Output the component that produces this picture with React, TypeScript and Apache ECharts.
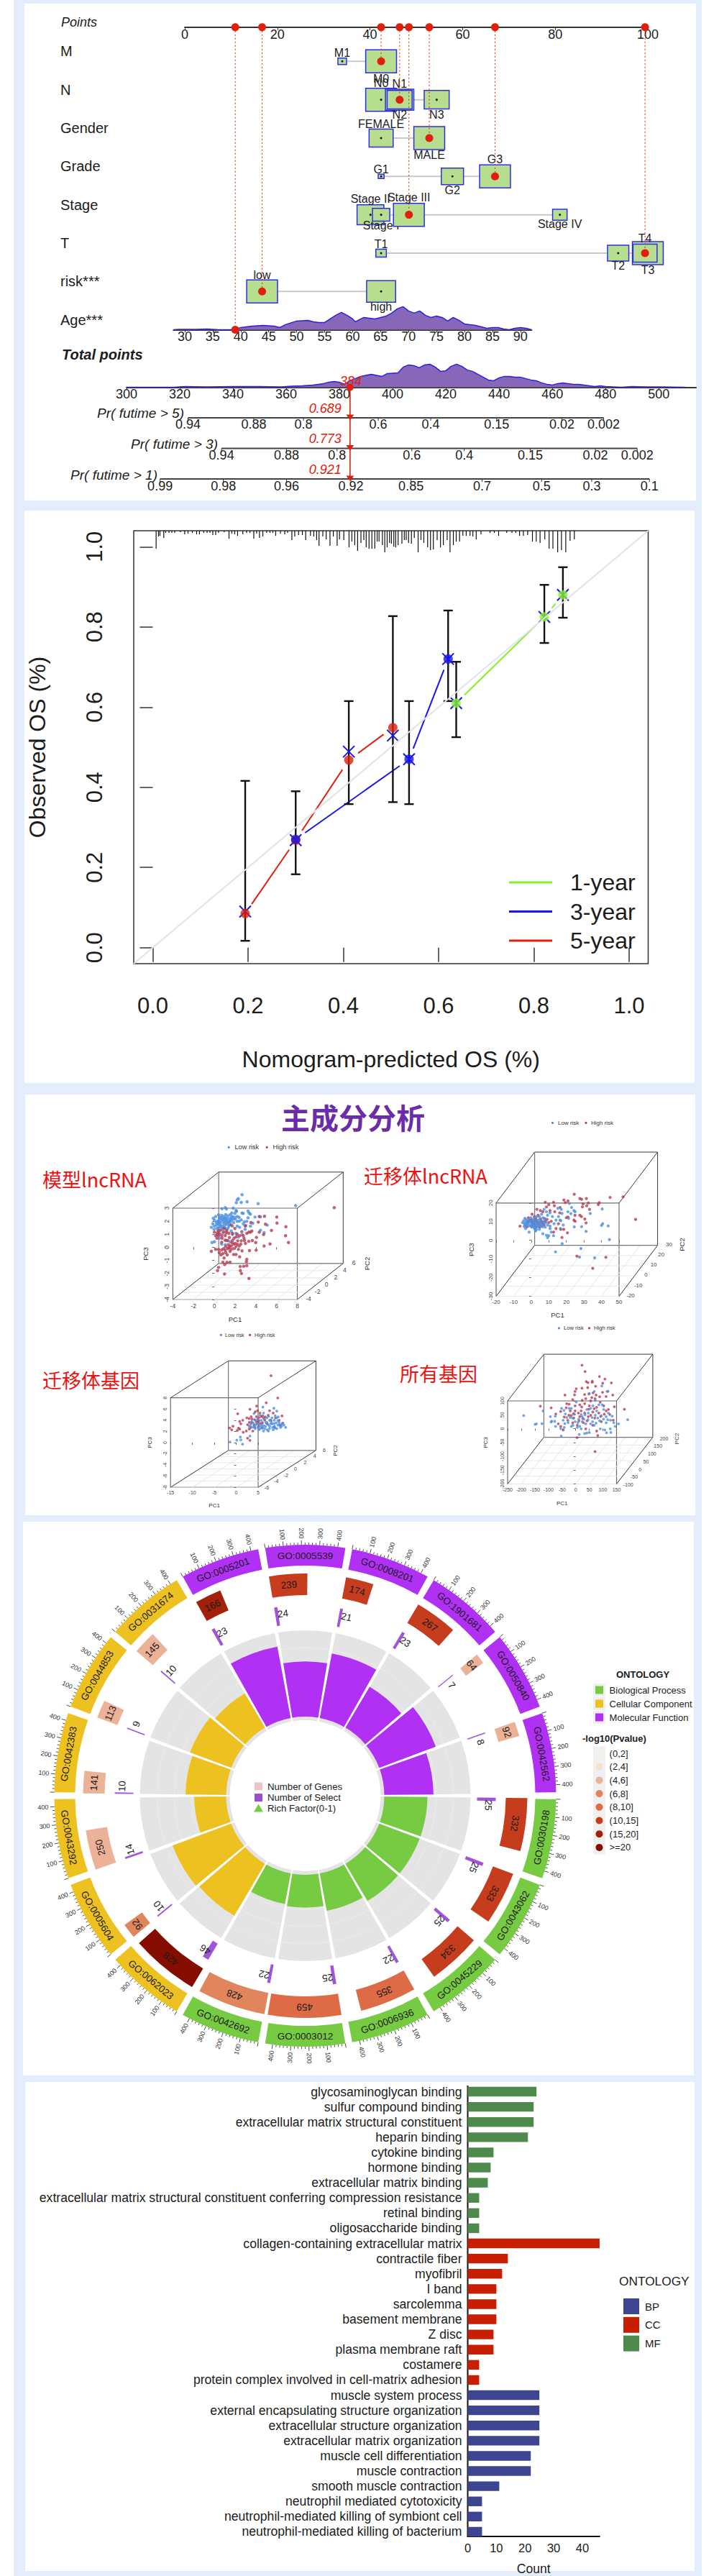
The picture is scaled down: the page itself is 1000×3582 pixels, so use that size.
import React, { useEffect, useRef } from "react";
import * as echarts from "echarts";

const SANS = '"Liberation Sans", Arial, sans-serif';
const CJK = '"Noto Sans CJK SC", sans-serif';
const RED = "#e0200c";
const INK = "#1c1c1c";

// ---------- Panel 1: nomogram ----------
const pointTicks = [0, 20, 40, 60, 80, 100];
const rowTitles = ["M", "N", "Gender", "Grade", "Stage", "T", "risk***", "Age***"];
const nomoNames = ["M1", "M0", "N0", "N1", "N2", "N3", "FEMALE", "MALE", "G1", "G2", "G3", "Stage II", "Stage I", "Stage III", "Stage IV", "T1", "T2", "T3", "T4", "low", "high"];
const nomoRows = [1, 1, 2, 2, 2, 2, 3, 3, 4, 4, 4, 5, 5, 5, 5, 6, 6, 6, 6, 7, 7];
const nomoPoints = [34, 42.4, 42.4, 46.4, 46.4, 54.4, 42.4, 52.8, 42.4, 57.8, 67, 40.1, 42.4, 48.4, 81, 42.4, 93.6, 100, 99.4, 16.7, 42.4];
const nomoWeight = [0.28, 1, 1, 0.92, 0.81, 0.81, 0.78, 1, 0.19, 0.72, 1, 0.87, 0.56, 1, 0.47, 0.34, 0.69, 1, 0.78, 1, 0.94];
const selPoints = [10.9, 16.7, 42.4, 46.4, 48.4, 52.8, 67, 99.4];
const selRows = [8, 7, 1, 2, 5, 3, 4, 6];
const ageX = [28, 29, 30, 32, 34, 36, 38, 39, 40, 42, 44, 46, 47, 48, 50, 52, 53, 54, 55, 57, 58, 59, 60, 60.5, 62, 64, 65, 66, 67, 68, 69, 70, 71, 72, 73, 74, 75, 76, 77, 78, 79, 80, 81, 82, 83, 84, 85, 86, 87, 88, 89, 90, 91, 92];
const ageDensity = [0, 0.5, 0.3, 0.3, 1, 0, 0, 0.5, 3, 5, 6, 5, 3, 7, 12, 13, 11, 10, 10, 20, 24, 20, 15, 11, 17, 15, 17, 19, 23, 29, 32, 26, 23, 26, 20, 17, 19, 17, 12, 17, 13, 8, 7, 6, 4, 2, 3, 3, 1, 0, 2, 3, 2, 0];
const ageTicks = [30, 35, 40, 45, 50, 55, 60, 65, 70, 75, 80, 85, 90];
const totalX = [300, 318, 322, 330, 340, 350, 358, 362, 366, 370, 374, 376, 378, 380, 382, 384, 388, 392, 396, 398, 402, 404, 406, 408, 410, 412, 414, 416, 418, 420, 422, 424, 426, 428, 430, 432, 434, 436, 438, 440, 442, 444, 446, 448, 450, 452, 454, 456, 458, 460, 462, 464, 466, 468, 470, 472, 474, 476, 478, 480, 486, 490, 495, 500, 510];
const totalDensity = [0, 0, 1, 0.5, 1, 1, 0.5, 1.5, 2, 3, 5, 7, 8, 7, 4, 9, 15, 18, 15, 19, 20, 28, 31, 30, 27, 31, 32, 28, 22, 23, 29, 32, 29, 24, 22, 18, 14, 10, 9, 13, 15, 15, 14, 14, 12, 10, 9, 6, 4, 3, 5, 6, 5, 4, 4, 3, 2, 1, 2, 1, 0, 1, 0.5, 0.5, 0];
const totalTicks = [300, 320, 340, 360, 380, 400, 420, 440, 460, 480, 500];
const prLabels = [
  ["0.94", "0.88", "0.8", "0.6", "0.4", "0.15", "0.02", "0.002"],
  ["0.94", "0.88", "0.8", "0.6", "0.4", "0.15", "0.02", "0.002"],
  ["0.99", "0.98", "0.96", "0.92", "0.85", "0.7", "0.5", "0.3", "0.1"],
];
const prAtTotal = [
  [323.1, 347.8, 366.5, 394.6, 414.3, 439.1, 463.6, 479.3],
  [335.7, 360.1, 379.1, 407.2, 426.9, 451.7, 476.2, 491.9],
  [312.6, 336.4, 360.1, 384.3, 406.9, 433.6, 456, 474.8, 496.5],
];
const prTitles = ["Pr( futime > 5)", "Pr( futime > 3)", "Pr( futime > 1)"];
const prValues = ["0.689", "0.773", "0.921"];
const totalScore = 384;

// ---------- Panel 2: calibration ----------
const calX = [0.194, 0.3, 0.4115, 0.504, 0.538, 0.62, 0.637, 0.822, 0.861];
const calLo = [0.017, 0.183, 0.358, 0.363, 0.358, 0.615, 0.525, 0.76, 0.823];
const calHi = [0.416, 0.39, 0.615, 0.827, 0.615, 0.841, 0.713, 0.905, 0.949];
const calCorrected = [0.09, 0.268, 0.489, 0.529, 0.47, 0.72, 0.61, 0.825, 0.88];
const year5 = [[0.194, 0.085], [0.3, 0.268], [0.4115, 0.468], [0.504, 0.549]];
const year3 = [[0.3, 0.27], [0.538, 0.47], [0.62, 0.72]];
const year1 = [[0.637, 0.61], [0.822, 0.825], [0.861, 0.88]];
const rugX = [0.007, 0.012, 0.015, 0.023, 0.027, 0.034, 0.04, 0.046, 0.058, 0.067, 0.074, 0.083, 0.092, 0.098, 0.107, 0.114, 0.12, 0.126, 0.132, 0.138, 0.15, 0.16, 0.166, 0.172, 0.178, 0.189, 0.197, 0.204, 0.212, 0.218, 0.224, 0.231, 0.239, 0.246, 0.252, 0.258, 0.268, 0.277, 0.283, 0.292, 0.298, 0.306, 0.314, 0.321, 0.331, 0.338, 0.344, 0.349, 0.357, 0.364, 0.372, 0.379, 0.387, 0.392, 0.401, 0.412, 0.418, 0.424, 0.43, 0.437, 0.443, 0.448, 0.454, 0.46, 0.466, 0.471, 0.475, 0.482, 0.487, 0.492, 0.497, 0.501, 0.506, 0.51, 0.515, 0.523, 0.528, 0.532, 0.537, 0.543, 0.549, 0.557, 0.563, 0.569, 0.577, 0.583, 0.589, 0.597, 0.604, 0.61, 0.618, 0.624, 0.631, 0.637, 0.644, 0.651, 0.658, 0.666, 0.672, 0.679, 0.689, 0.708, 0.717, 0.726, 0.743, 0.754, 0.762, 0.77, 0.778, 0.787, 0.797, 0.805, 0.813, 0.823, 0.832, 0.84, 0.85, 0.858, 0.867, 0.876, 0.885];
const rugLen = [25, 8, 7, 10, 3, 3, 3, 3, 2, 5, 4, 3, 5, 5, 3, 3, 3, 6, 6, 3, 2, 11, 4, 5, 7, 5, 3, 3, 11, 4, 10, 8, 3, 3, 3, 7, 4, 5, 3, 13, 8, 6, 6, 13, 7, 8, 13, 21, 8, 12, 21, 8, 21, 12, 13, 23, 15, 20, 28, 17, 13, 23, 25, 25, 25, 15, 15, 20, 30, 23, 17, 18, 22, 23, 20, 18, 13, 13, 17, 18, 10, 30, 13, 17, 23, 27, 26, 13, 23, 20, 13, 30, 20, 15, 15, 7, 7, 7, 8, 12, 5, 3, 3, 7, 3, 3, 3, 7, 7, 6, 15, 15, 17, 12, 25, 25, 30, 27, 30, 14, 12];

// ---------- Panel 3: PCA ----------
const pcaALow = [[2.67,4.03],[2.32,3.73],[2.21,3.64],[2.12,3.42],[2.6,3.44],[3.16,3.5],[4.22,3.35],[7.84,3.2],[0.73,2.96],[1.05,3.04],[1.17,2.94],[1.82,3],[2.09,2.82],[2.14,2.76],[1.68,2.63],[1.98,2.6],[2.67,2.63],[2.79,2.6],[3.25,2.78],[3.36,2.63],[3.48,2.54],[3.92,2.32],[4.45,2.34],[3.25,2.26],[2.9,1.95],[3.13,1.99],[3.71,1.84],[2.79,1.8],[2.97,1.62],[3.48,1.62],[5.1,1.7],[4.45,1.31],[4.8,1.13],[2.97,1.38],[0.41,2.49],[0.13,2.36],[-0.1,2.23],[0.01,2.08],[0.71,2.45],[0.87,2.36],[1.05,2.27],[1.29,2.41],[1.52,2.49],[1.75,2.36],[2.21,2.36],[2.39,2.3],[2.02,2.17],[0.48,2.17],[0.71,2.08],[0.94,1.99],[1.17,2.08],[1.33,1.9],[1.63,2.08],[1.86,1.9],[2.21,1.99],[0.18,1.9],[-0.15,1.8],[-0.29,1.53],[0.01,1.62],[0.36,1.8],[0.59,1.71],[0.82,1.62],[1.05,1.71],[1.4,1.62],[1.75,1.62],[2.21,1.62],[2.44,1.53],[-0.03,1.38],[0.25,1.44],[0.71,1.35],[1.17,1.38],[1.63,1.25],[2.09,1.07],[2.67,0.98],[0.82,1.07],[0.25,0.98],[0.48,0.7],[1.17,0.52],[1.52,0.43],[-0.22,0.37],[0.01,0.43],[0.71,0.24],[1.05,0.19],[1.75,0.98],[2.32,0.79],[1,2.2],[0.9,1.85],[1.2,1.8],[0.6,1.9],[0.3,2],[0.75,1.5],[1.5,2.2],[1.1,2.5],[1.4,2],[0.5,2.3],[0.2,1.7],[0.4,1.5],[0.65,2.25],[0.85,2.15],[1.1,1.95],[1.25,2.2],[1.45,1.75],[1.55,1.95],[1.95,2.3],[1.65,2.3],[0.6,1.6],[1,1.5],[1.3,1.45],[0.45,1.95],[2.4,2],[1.8,2.15],[2.6,2.1]];
const pcaAHigh = [[11.56,3.04],[6.02,2.32],[6.04,1.86],[6.9,1.58],[6.87,0.89],[7.15,0.37],[5.51,1.29],[5.37,0.26],[4.8,0.1],[4.03,-0.22],[3.39,-0.25],[4.33,2.36],[4.84,2.38],[4.24,1.93],[4.93,1.77],[4.33,1.16],[4.75,0.98],[4.06,0.76],[3.99,0.37],[3.66,0.52],[3.32,0.46],[3.62,1.25],[3.32,1.16],[3.02,1.66],[3.53,1.9],[2.86,0.7],[2.9,0.52],[2.55,0.24],[2.67,-0.27],[2.44,-0.73],[3.13,-0.92],[3.09,-1.1],[3.13,-1.41],[2.83,-1.45],[2.49,-1.47],[2.51,-1.78],[2.62,-2],[3.34,-2.39],[0.98,-2.04],[0.31,-1.78],[0.41,-1.54],[0.82,-1.14],[1,-1.32],[1.22,-1.15],[1.52,-1.14],[0.94,-0.82],[0.64,-0.58],[-0.29,-0.31],[0.13,-0.16],[0.41,-0.16],[0.48,-0.4],[0.82,-0.49],[1.24,-0.58],[1.86,-0.55],[2.09,-0.55],[1.05,-0.22],[1.4,-0.03],[1.63,0.1],[1.86,0.24],[2.09,0.06],[2.32,-0.16],[1.52,-0.31],[1.29,0.52],[0.71,0.39],[0.13,0.89],[0.01,1.16],[0.36,1.25],[0.71,0.89],[1.05,0.89],[1.4,1.07],[1.75,1.07],[2.09,0.79],[2.44,0.89],[2.79,0.89],[3.13,1.07],[3.48,1.16],[0.94,1.44],[1.63,1.71],[1.98,1.44],[2.21,0.24],[1.75,0.52],[0.25,0.7],[0.5,1.05],[1.2,1.25],[1.9,0.7],[2.25,0.5],[1.35,0.2],[1.6,-0.15],[1.85,-0.1],[1.1,0.05],[0.3,1.1],[0.55,1.3],[0.9,1.2],[1.15,1.1],[0.4,0.9],[0.75,0.7],[1.05,0.55],[1.45,0.75],[1.7,0.35],[2,0.3],[2.4,0.1],[1.5,0.1],[1.3,-0.1],[0.9,-0.1],[1.1,-0.4],[0.7,-0.2],[2.6,0.5],[3,0.3],[2.2,1],[2.65,1.2]];
const pcaBLow = [[22.97,17.6],[24.34,15.9],[25,15.3],[20.9,15.3],[22.6,14.3],[33.6,14.4],[40.4,16.8],[21.7,19.8],[15.1,17.2],[17.1,16.6],[17.5,14.4],[15.5,12.7],[21.3,11.8],[16.4,10.8],[16.8,10.5],[40,8],[40.7,8.9],[43.8,7.7],[28.7,7.3],[24.5,7.2],[31.2,4.8],[18.2,8.2],[16.6,6.3],[13,8.9],[14.1,10.8],[10.7,6.3],[11.4,4.4],[12.7,2.5],[6.6,3.5],[8.65,2.7],[10,2.5],[9.3,1.4],[-1.2,4.4],[-3.2,6.3],[17.6,-1.8],[44.5,0.4],[28.3,-4.4],[13.8,-6.2],[27.5,-9],[36.1,-9.4],[-5,9.5],[-3.6,11.8],[-2.3,10.2],[-0.9,9.5],[0.5,8.2],[1.8,6.3],[3.2,7],[4.6,5.9],[5.9,7.6],[8,7],[9.3,8.2],[10.7,7.6],[-0.2,12.1],[1.1,10.8],[2.5,9.5],[3.9,10.8],[5.2,9.5],[6.6,12.1],[8,11.4],[9.3,13.4],[7.3,16.6],[8.65,15.3],[10.7,14.7],[12,12.7],[4.6,12.7],[-3.6,8.2],[-1.6,7.6],[2.5,5],[2.9,5.7],[1.8,12.1],[5.9,14],[-4.3,10.5],[-1,11],[0.8,9],[3,8],[4.5,9],[6,8.5],[7,10],[-2.6,8.4],[1,7.5],[2.3,11],[-3,9.7],[-2,8.8],[-1.5,10.5],[-0.5,8],[0,10.3],[0.3,7],[1.4,9.8],[2,8],[2.6,7],[3.5,9.5],[4,7.6],[5,8],[5.5,10.8],[6.5,7.2],[7.5,9.2],[8.5,9.6],[-4,7.4],[-2.8,11],[3,12.6],[-3.9,9]];
const pcaBHigh = [[24.5,24.7],[18.6,21.6],[20.9,21.1],[19.4,20.2],[27.7,22.4],[28.7,22],[31.4,22.4],[44.9,23],[52.3,23.3],[38.7,20.2],[38.2,19.2],[32.5,20],[29.5,19.5],[29.1,17.9],[31.6,18.5],[33.2,16.6],[20.9,12.5],[20,12.1],[24.9,13.4],[27.7,13.4],[28.6,12.7],[30.5,11.4],[24.3,10.8],[25,10.2],[31.2,9.3],[59.4,11.2],[20.6,4],[18.5,5.9],[16.8,5.9],[17.5,1.5],[14.1,6.3],[12.7,4.4],[15.5,8.9],[8,20.4],[10,19.1],[12.7,20.4],[13.2,18.5],[16.4,17.6],[8.65,17.9],[10.7,15.9],[13.4,15.3],[16.2,14.7],[3.2,16.6],[5.2,15.9],[0.5,14],[1.8,12.7],[-1.6,12.1],[-6.4,7.6],[3.9,13.4],[6.6,15.3],[5.2,11.4],[8,10.2],[10,9.5],[2.5,11.4],[0.5,9.5],[3.2,8.9],[5.9,10.2],[1.8,8.2],[4.6,8.2],[7.3,8.2],[11.4,10.2],[26,-8.5],[42.5,-9.1],[35,-15],[-1.8,9.8],[-0.8,10.8],[0.4,11],[1,9.5],[1.6,10],[3,10.3],[4.2,9.8],[4.8,7],[6.5,9.2],[7.5,11.7],[9,11.2],[2.2,6.8],[-2.5,7.2],[0,7.6]];
const pcaCLow = [[-1.41,0.1],[0.12,0.44],[0.94,1],[1.05,0.48],[1.44,-0.29],[3.13,1.17],[6.09,6.34],[8.6,6.13],[9.26,5.62],[4.06,5.19],[6.25,5.27],[2.97,2.92],[3.52,3.78],[4.34,3.99],[4.88,3.35],[5.7,2.92],[6.52,2.49],[7.07,2.28],[7.62,2.92],[8.16,3.35],[8.71,3.99],[9.26,4.42],[9.81,3.56],[10.35,2.92],[11.28,2.71],[10.9,3.13],[8.44,2.28],[9.26,2.49],[6.8,3.56],[7.62,3.99],[8.16,4.42],[5.7,3.99],[5.16,2.28],[4.34,2.49],[3.52,2.71],[6.25,2.06],[7.34,2.06],[8.71,2.92],[9.53,3.13],[5.43,4.85],[4.88,4.2],[3.3,3.2],[3.9,3.5],[4.4,3.1],[4.9,2.7],[5.3,3.4],[5.9,3.2],[6.3,3],[6.7,2.9],[7,3.6],[7.3,3.2],[7.6,2.5],[7.9,3.4],[8.3,2.7],[8.6,3.4],[8.9,2.6],[9.1,3.5],[9.5,3.9],[9.9,3.1],[10.1,2.7],[10.5,3.4],[6.4,4.2],[7,4.4],[7.4,4.7],[8,3.8],[8.9,4.8],[9.6,4.6],[6,2.6],[5.4,2.5],[4.6,3.4],[4,2.8]];
const pcaCHigh = [[7.95,11.95],[9.48,7.97],[6.85,7.11],[4.66,6.52],[3.13,5.96],[0.34,5.15],[-1.52,2.62],[-0.75,2.92],[-1.03,2.28],[0.78,3.78],[1.49,3.99],[1.05,3.35],[0.51,2.58],[0.78,2.41],[0.23,2.15],[2.42,4.42],[3.41,4.63],[2.97,4.29],[2.59,0.78],[3.13,0.39],[1.6,1.85],[2.31,2.06],[2.97,2.41],[4.34,5.49],[4.88,5.7],[5.43,5.27],[5.7,4.63],[7.62,5.7],[8.44,5.27],[10.46,4.76],[10.63,3.48],[3.52,3.56],[4.06,3.13],[4.61,3.78],[5.16,2.92],[5.98,3.56],[6.52,3.99],[7.07,3.35],[7.89,3.99],[8.99,4.42],[9.81,3.99],[3.24,2.71],[3.79,2.06],[5.16,4.42],[4.61,4.63],[6.25,4.42],[8.71,2.71],[10.08,3.13],[3.6,4.2],[4.2,4.1],[4.9,3.6],[5.5,3.4],[5.2,3.9],[6,4.8],[6.6,4.6],[7.3,4.9],[4.2,2.7],[2.6,3.2],[3,3.6],[5.9,2.6]];
const pcaDLow = [[-191,47],[-149,15],[-144,17],[-124,18],[-120,64],[-93,43],[-75,45],[-88,27],[-90,24],[-77,26],[-74,8],[-52,73],[-43,66],[-53,-27],[-46,30],[-38,53],[-33,40],[-24,73],[-16,73],[2,96],[-11,38],[-2,25],[11,34],[24,43],[24,25],[37,17],[46,56],[55,73],[63,82],[72,102],[50,127],[68,134],[96,154],[119,135],[98,86],[85,86],[81,38],[94,47],[112,43],[120,56],[134,45],[140,21],[157,17],[191,32],[145,8],[112,21],[107,-5],[127,-1],[129,-14],[113,-15],[90,-1],[68,12],[55,17],[41,-16],[50,-14],[33,-18],[20,-1],[13,-21],[6,4],[-16,8],[-42,4],[-55,0],[20,51],[41,69],[77,64],[103,69],[-20,40],[-5,52],[8,22],[30,34],[60,40],[72,48],[88,28],[102,34],[118,32],[-28,22],[-40,18],[15,8],[45,32],[34,50],[-10,12],[75,20],[128,30],[62,25]];
const pcaDHigh = [[23,229],[34.5,206],[87.2,188],[107.4,179],[38.9,170],[45,166],[60.8,171],[60.8,167],[99.4,164],[131,165],[73,153],[2,144],[23,146],[44,148],[-2.4,134],[-4.2,122],[-39.3,121],[32.7,123],[48.5,125],[63.5,129],[74.9,121],[98.6,131],[116,134],[136,121],[88,115],[111.7,116],[-11,105],[24,102],[37,108],[59,112],[71,108],[-130,81],[-90,75],[-55,62],[-73,53],[-33,90],[-24,88],[-35,75],[-2,82],[15,86],[33,90],[50,82],[77,77],[103,82],[142,79],[179,70],[-16,47],[-2,64],[20,64],[33,56],[46,43],[63,60],[85,56],[112,64],[125,51],[138,30],[-64,17],[-55,8],[-46,-5],[-29,30],[-11,21],[6,12],[28,21],[37,-1],[63,12],[77,-9],[94,25],[81,-25],[5,-33],[71,-83],[-7,38],[15,43],[120,69],[-20,64],[-8,54],[10,56],[26,36],[42,28],[55,48],[70,38],[92,44],[105,52],[-25,48],[-42,42],[12,28],[48,70],[68,72],[22,78],[90,95],[55,100]];
const pc2TicksA = ["-4", "-2", "0", "2", "4", "6"];
const pc2TicksB = ["-20", "-10", "0", "10", "20", "30"];
const pc2TicksC = ["-6", "-4", "-2", "0", "2", "4", "6"];
const pc2TicksD = ["-100", "-50", "0", "50", "100", "150", "200"];

// ---------- Panel 4: GO circle ----------
const goIds = ["GO:0030198", "GO:0043062", "GO:0045229", "GO:0006936", "GO:0003012", "GO:0042692", "GO:0062023", "GO:0005604", "GO:0043292", "GO:0042383", "GO:0044853", "GO:0031674", "GO:0005201", "GO:0005539", "GO:0008201", "GO:1901681", "GO:0050840", "GO:0042562"];
const goOntology = [0, 0, 0, 0, 0, 0, 1, 1, 1, 1, 1, 1, 2, 2, 2, 2, 2, 2];
const goGenes = [332, 333, 334, 355, 459, 428, 428, 92, 250, 141, 113, 145, 166, 239, 174, 267, 64, 92];
const goSelect = [25, 25, 25, 22, 25, 22, 46, 10, 14, 10, 9, 10, 23, 24, 21, 23, 7, 8];
const goRich = [0.5, 0.5, 0.5, 0.44, 0.38, 0.36, 0.7, 0.725, 0.37, 0.47, 0.51, 0.46, 0.84, 0.64, 0.76, 0.55, 0.7, 0.57];
const goBin = [5, 5, 5, 4, 4, 3, 7, 3, 2, 2, 2, 2, 6, 5, 5, 5, 2, 2];
const ontologyNames = ["Biological Process", "Cellular Component", "Molecular Function"];
const ontologyColors = ["#77cb42", "#edc11f", "#b030f4"];
const pBinNames = ["(0,2]", "(2,4]", "(4,6]", "(6,8]", "(8,10]", "(10,15]", "(15,20]", ">=20"];
const pBinColors = ["#f7f1ea", "#f5e0d0", "#ebb297", "#e1855c", "#dd6b45", "#c53d1c", "#a3200a", "#850d00"];
const goAxisTicks = [0, 20, 40, 60, 80, 100, 120, 140, 160, 180, 200, 220, 240, 260, 280, 300, 320, 340, 360, 380, 400];
const centerNames = ["Number of Genes", "Number of Select", "Rich Factor(0-1)"];

// ---------- Panel 5: enrichment bars ----------
const barNames = ["glycosaminoglycan binding", "sulfur compound binding", "extracellular matrix structural constituent", "heparin binding", "cytokine binding", "hormone binding", "extracellular matrix binding", "extracellular matrix structural constituent conferring compression resistance", "retinal binding", "oligosaccharide binding", "collagen-containing extracellular matrix", "contractile fiber", "myofibril", "I band", "sarcolemma", "basement membrane", "Z disc", "plasma membrane raft", "costamere", "protein complex involved in cell-matrix adhesion", "muscle system process", "external encapsulating structure organization", "extracellular structure organization", "extracellular matrix organization", "muscle cell differentiation", "muscle contraction", "smooth muscle contraction", "neutrophil mediated cytotoxicity", "neutrophil-mediated killing of symbiont cell", "neutrophil-mediated killing of bacterium"];
const barCounts = [24, 23, 23, 21, 9, 8, 7, 4, 4, 4, 46, 14, 12, 10, 10, 10, 9, 9, 4, 4, 25, 25, 25, 25, 22, 22, 11, 5, 5, 5];
const barGroup = ["MF", "MF", "MF", "MF", "MF", "MF", "MF", "MF", "MF", "MF", "CC", "CC", "CC", "CC", "CC", "CC", "CC", "CC", "CC", "CC", "BP", "BP", "BP", "BP", "BP", "BP", "BP", "BP", "BP", "BP"];
const barGroups = ["BP", "CC", "MF"];
const barColors = ["#3d4490", "#c81f02", "#4e8a4b"];

function buildOption() {
  const grid: any[] = [];
  const xAxis: any[] = [];
  const yAxis: any[] = [];
  const series: any[] = [];
  const graphic: any[] = [];

  const cart = (g: any, x: any, y: any) => {
    const i = grid.length;
    grid.push({ containLabel: false, ...g });
    xAxis.push({ gridIndex: i, ...x });
    yAxis.push({ gridIndex: i, ...y });
    return i;
  };
  const txt = (text: string, x: number, y: number, size: number, o: any = {}) => ({
    type: "text",
    x,
    y,
    rotation: o.rotation || 0,
    silent: true,
    style: {
      text,
      fontSize: size,
      fontFamily: o.family || SANS,
      fontStyle: o.italic ? "italic" : "normal",
      fontWeight: o.bold ? "bold" : "normal",
      fill: o.fill || INK,
      align: o.align || "left",
      textAlign: o.align || "left",
      verticalAlign: "middle",
      textVerticalAlign: "middle",
    },
  });
  const gline = (x1: number, y1: number, x2: number, y2: number, stroke: string, lineWidth = 1) => ({
    type: "line",
    silent: true,
    shape: { x1, y1, x2, y2 },
    style: { stroke, lineWidth },
  });

  // ===== Panel 1 =====
  const AX = { color: "#333", width: 2 };
  cart(
    { left: 257, top: 8, width: 644, height: 30 },
    { type: "value", min: 0, max: 100, interval: 20, axisLine: { lineStyle: AX }, axisTick: { length: 4, lineStyle: { color: "#333" } }, splitLine: { show: false }, axisLabel: { customValues: pointTicks, fontSize: 18, fontFamily: SANS, color: INK, margin: 1 } },
    { type: "value", show: false, min: 0, max: 1 }
  );
  graphic.push(txt("Points", 85, 31, 18, { italic: true }));
  rowTitles.forEach((t, i) => graphic.push(txt(t, 84, 71.4 + i * 53.3, 20)));

  const rowsGrid = cart(
    { left: 257, top: 32, width: 644, height: 426.6 },
    { type: "value", show: false, min: 0, max: 100 },
    { type: "value", show: false, min: 0, max: 8, inverse: true }
  );
  series.push({
    type: "custom",
    name: "rows",
    xAxisIndex: rowsGrid,
    yAxisIndex: rowsGrid,
    silent: true,
    clip: false,
    data: [1, 2, 3, 4, 5, 6, 7].map((r) => [Math.min(...nomoPoints.filter((_, i) => nomoRows[i] === r)), r, Math.max(...nomoPoints.filter((_, i) => nomoRows[i] === r))]),
    renderItem: (_p: any, api: any) => {
      const a = api.coord([api.value(0), api.value(1)]);
      const b = api.coord([api.value(2), api.value(1)]);
      return { type: "line", shape: { x1: a[0], y1: a[1], x2: b[0], y2: b[1] }, style: { stroke: "#c9c9c9", lineWidth: 2 } };
    },
  });
  const labelDy = [-11.6, 24, -23, -22, 21, 21, -19, 23.6, -10, 19, -23.6, -22, 15, -24, 13, -12, 18, 24, -20, -23, 21];
  series.push({
    type: "custom",
    name: "levels",
    xAxisIndex: rowsGrid,
    yAxisIndex: rowsGrid,
    silent: true,
    clip: false,
    data: nomoNames.map((_, i) => [nomoPoints[i], nomoRows[i], nomoWeight[i]]),
    renderItem: (p: any, api: any) => {
      const c = api.coord([api.value(0), api.value(1)]);
      const h = api.value(2) * 32;
      const w = h * 1.34;
      return {
        type: "group",
        children: [
          { type: "rect", shape: { x: c[0] - w / 2, y: c[1] - h / 2, width: w, height: h }, style: { fill: "#b6de8e", stroke: "#2e2ee8", lineWidth: 1.5 } },
          { type: "circle", shape: { cx: c[0], cy: c[1], r: 1.5 }, style: { fill: "#111" } },
          { type: "text", x: c[0], y: c[1] + labelDy[p.dataIndex], style: { text: nomoNames[p.dataIndex], fontSize: 16, fontFamily: SANS, fill: INK, align: "center", textAlign: "center", verticalAlign: "middle", textVerticalAlign: "middle" } },
        ],
      };
    },
  });
  const ageGrid = cart(
    { left: 241.4, top: 418.4, width: 498, height: 40 },
    { type: "value", min: 28, max: 92, axisLine: { lineStyle: AX }, axisTick: { length: 4, customValues: ageTicks, lineStyle: { color: "#333" } }, splitLine: { show: false }, axisLabel: { customValues: ageTicks, fontSize: 18, fontFamily: SANS, color: INK, margin: 1 } },
    { type: "value", show: false, min: 0, max: 40 }
  );
  series.push({
    type: "line",
    name: "Age",
    xAxisIndex: ageGrid,
    yAxisIndex: ageGrid,
    symbol: "none",
    data: ageX.map((x, i) => [x, ageDensity[i]]),
    lineStyle: { color: "#2a20e0", width: 1.5 },
    areaStyle: { color: "#8866b8", opacity: 1 },
  });
  series.push({
    type: "custom",
    name: "selected",
    xAxisIndex: rowsGrid,
    yAxisIndex: rowsGrid,
    silent: true,
    clip: false,
    z: 6,
    data: selPoints.map((x, i) => [x, selRows[i]]),
    renderItem: (_p: any, api: any) => {
      const a = api.coord([api.value(0), 0.11]);
      const b = api.coord([api.value(0), api.value(1)]);
      return {
        type: "group",
        children: [
          { type: "line", shape: { x1: a[0], y1: a[1], x2: b[0], y2: b[1] }, style: { stroke: RED, lineWidth: 1, lineDash: [2, 3] } },
          { type: "circle", shape: { cx: a[0], cy: a[1], r: 5.5 }, style: { fill: RED } },
          { type: "circle", shape: { cx: b[0], cy: b[1], r: 5.5 }, style: { fill: RED } },
        ],
      };
    },
  });
  graphic.push(txt("Total points", 86, 493, 20, { italic: true, bold: true }));
  const totalGrid = cart(
    { left: 176, top: 504.4, width: 792, height: 34 },
    { type: "value", min: 300, max: 514, axisLine: { lineStyle: AX }, axisTick: { length: 4, customValues: totalTicks, lineStyle: { color: "#333" } }, splitLine: { show: false }, axisLabel: { customValues: totalTicks, fontSize: 18, fontFamily: SANS, color: INK, margin: 1 } },
    { type: "value", show: false, min: 0, max: 34 }
  );
  series.push({
    type: "line",
    name: "Total points",
    xAxisIndex: totalGrid,
    yAxisIndex: totalGrid,
    symbol: "none",
    data: totalX.map((x, i) => [x, totalDensity[i]]),
    lineStyle: { color: "#2a20e0", width: 1.5 },
    areaStyle: { color: "#8866b8", opacity: 1 },
  });
  const prGrid = cart(
    { left: 176, top: 538.4, width: 792, height: 127.6 },
    { type: "value", show: false, min: 300, max: 514 },
    { type: "value", show: false, min: 0, max: 3, inverse: true }
  );
  series.push({
    type: "custom",
    name: "probability scales",
    xAxisIndex: prGrid,
    yAxisIndex: prGrid,
    silent: true,
    clip: false,
    data: prAtTotal.map((p, i) => [p[0], i + 1]),
    renderItem: (p: any, api: any) => {
      const i = p.dataIndex;
      const row = api.value(1);
      const pos = prAtTotal[i];
      const a = api.coord([pos[0], row]);
      const b = api.coord([pos[pos.length - 1], row]);
      const children: any[] = [{ type: "line", shape: { x1: a[0], y1: a[1], x2: b[0], y2: b[1] }, style: { stroke: "#444", lineWidth: 2 } }];
      pos.forEach((t, j) => {
        const c = api.coord([t, row]);
        children.push({ type: "line", shape: { x1: c[0], y1: c[1], x2: c[0], y2: c[1] + 4 }, style: { stroke: "#333", lineWidth: 1 } });
        children.push({ type: "text", x: c[0], y: c[1] + 9.5, style: { text: prLabels[i][j], fontSize: 18, fontFamily: SANS, fill: INK, align: "center", textAlign: "center", verticalAlign: "middle", textVerticalAlign: "middle" } });
      });
      return { type: "group", children };
    },
  });
  series.push({
    type: "custom",
    name: "score",
    xAxisIndex: prGrid,
    yAxisIndex: prGrid,
    silent: true,
    clip: false,
    z: 6,
    data: [[totalScore, 0]],
    renderItem: (_p: any, api: any) => {
      const t = api.value(0);
      const a = api.coord([t, 0]);
      const b = api.coord([t, 3]);
      const children: any[] = [
        { type: "line", shape: { x1: a[0], y1: a[1], x2: b[0], y2: b[1] }, style: { stroke: RED, lineWidth: 1.6 } },
        { type: "circle", shape: { cx: a[0], cy: a[1], r: 5 }, style: { fill: RED } },
        { type: "text", x: a[0] + 1, y: a[1] - 8, style: { text: String(t), fontSize: 18, fontFamily: SANS, fontStyle: "italic", fill: RED, align: "center", textAlign: "center", verticalAlign: "middle", textVerticalAlign: "middle" } },
      ];
      [1, 2, 3].forEach((r) => {
        const c = api.coord([t, r]);
        children.push({ type: "polygon", shape: { points: [[c[0] - 5.5, c[1] - 4.5], [c[0] + 5.5, c[1] - 4.5], [c[0], c[1] + 3]] }, style: { fill: RED } });
        children.push({ type: "text", x: c[0] - 12, y: c[1] - 13, style: { text: prValues[r - 1], fontSize: 18, fontFamily: SANS, fontStyle: "italic", fill: RED, align: "right", textAlign: "right", verticalAlign: "middle", textVerticalAlign: "middle" } });
      });
      return { type: "group", children };
    },
  });
  [[256, 574], [303, 617], [219, 660]].forEach((p, i) => graphic.push(txt(prTitles[i], p[0], p[1], 19, { italic: true, align: "right" })));

  // ===== Panel 2 =====
  const calTicks = [0, 0.2, 0.4, 0.6, 0.8, 1];
  const fmt1 = (v: number) => v.toFixed(1);
  const calGrid = cart(
    { left: 186, top: 738, width: 715.5, height: 602, show: true, borderColor: "#333", borderWidth: 1.5, backgroundColor: "transparent" },
    {
      type: "value", min: -0.04, max: 1.04, name: "Nomogram-predicted OS (%)", nameLocation: "middle", nameGap: 117,
      nameTextStyle: { fontSize: 32, fontFamily: SANS, color: INK },
      axisLine: { show: false }, splitLine: { show: false },
      axisTick: { length: 20, customValues: calTicks, lineStyle: { color: "#333", width: 1.5 } },
      axisLabel: { customValues: calTicks, formatter: fmt1, fontSize: 31, fontFamily: SANS, color: INK, margin: 43 },
    },
    {
      type: "value", min: -0.04, max: 1.04, name: "Observed OS (%)", nameLocation: "middle", nameGap: 118,
      nameTextStyle: { fontSize: 32, fontFamily: SANS, color: INK },
      axisLine: { show: false }, splitLine: { show: false },
      axisTick: { length: 18, customValues: calTicks, lineStyle: { color: "#333", width: 1.5 } },
      axisLabel: { customValues: calTicks, formatter: fmt1, rotate: 90, fontSize: 31, fontFamily: SANS, color: INK, margin: 39 },
    }
  );
  const calS = { xAxisIndex: calGrid, yAxisIndex: calGrid, silent: true, clip: false };
  series.push({ type: "line", name: "ideal", ...calS, symbol: "none", data: [[-0.04, -0.04], [1.04, 1.04]], lineStyle: { color: "#e3e3e3", width: 2 } });
  series.push({
    type: "custom", name: "rug", ...calS,
    data: rugX.map((x, i) => [x, rugLen[i]]),
    renderItem: (_p: any, api: any) => {
      const a = api.coord([api.value(0), 1.04]);
      return { type: "line", shape: { x1: a[0], y1: a[1], x2: a[0], y2: a[1] + api.value(1) }, style: { stroke: "#111", lineWidth: 1.2 } };
    },
  });
  const brokenLine = (name: string, pts: number[][], color: string) => ({
    type: "custom", name, ...calS,
    itemStyle: { color },
    data: pts.slice(0, -1).map((p, i) => [p[0], p[1], pts[i + 1][0], pts[i + 1][1]]),
    renderItem: (_p: any, api: any) => {
      const a = api.coord([api.value(0), api.value(1)]);
      const b = api.coord([api.value(2), api.value(3)]);
      const L = Math.hypot(b[0] - a[0], b[1] - a[1]);
      const f = 16 / L;
      return {
        type: "line",
        shape: { x1: a[0] + (b[0] - a[0]) * f, y1: a[1] + (b[1] - a[1]) * f, x2: b[0] - (b[0] - a[0]) * f, y2: b[1] - (b[1] - a[1]) * f },
        style: { stroke: color, lineWidth: 2 },
      };
    },
  });
  series.push(brokenLine("1-year", year1, "#86f02c"));
  series.push(brokenLine("3-year", year3, "#1616ee"));
  series.push(brokenLine("5-year", year5, "#e0200c"));
  series.push({
    type: "custom", name: "error bars", ...calS,
    data: calX.map((x, i) => [x, calLo[i], calHi[i]]),
    renderItem: (_p: any, api: any) => {
      const lo = api.coord([api.value(0), api.value(1)]);
      const hi = api.coord([api.value(0), api.value(2)]);
      const s = { stroke: "#111", lineWidth: 2.4 };
      return {
        type: "group",
        children: [
          { type: "line", shape: { x1: lo[0], y1: lo[1], x2: hi[0], y2: hi[1] }, style: s },
          { type: "line", shape: { x1: lo[0] - 6.5, y1: lo[1], x2: lo[0] + 6.5, y2: lo[1] }, style: s },
          { type: "line", shape: { x1: hi[0] - 6.5, y1: hi[1], x2: hi[0] + 6.5, y2: hi[1] }, style: s },
        ],
      };
    },
  });
  [[year1, "#86f02c"], [year5, "#d8200c"], [year3, "#1616ee"]].forEach(([pts, color]: any) =>
    series.push({ type: "scatter", name: "observed " + color, ...calS, symbolSize: 13, data: pts, itemStyle: { color } })
  );
  series.push({
    type: "custom", name: "bias-corrected", ...calS,
    data: calX.map((x, i) => [x, calCorrected[i]]),
    renderItem: (_p: any, api: any) => {
      const c = api.coord([api.value(0), api.value(1)]);
      const s = { stroke: "#1616ee", lineWidth: 2 };
      const d = 8;
      return {
        type: "group",
        children: [
          { type: "line", shape: { x1: c[0] - d, y1: c[1] - d, x2: c[0] + d, y2: c[1] + d }, style: s },
          { type: "line", shape: { x1: c[0] - d, y1: c[1] + d, x2: c[0] + d, y2: c[1] - d }, style: s },
        ],
      };
    },
  });

  // ===== Panel 3 =====
  graphic.push(txt("主成分分析", 491, 1553, 40, { family: CJK, bold: true, fill: "#6a2ca8", align: "center" }));
  [["模型lncRNA", 59, 1639], ["迁移体lncRNA", 506, 1634], ["迁移体基因", 59, 1918], ["所有基因", 556, 1909]].forEach(([t, x, y]: any) =>
    graphic.push(txt(t, x, y, 27, { family: CJK, fill: "#f01010" }))
  );
  const plots = [
    { l: 240.4, r: 413.5, t: 1680, b: 1807, dx: 63.8, dy: -50.2, x: [-4, 8, 2], y: [-4, 3, 1], pc2: pc2TicksA, p2a: [429, 1806.4], p2b: [492, 1756], p2n: [510, 1757], font: 8.5, nameFont: 9.5, size: 4.5, lowData: pcaALow, highData: pcaAHigh, lowFirst: true, leg: [318.2, 326.5, 371.2, 379.5, 1595.3, 9.2], nameGapX: 22, nameGapY: 33 },
    { l: 690, r: 861, t: 1672.8, b: 1802.5, dx: 53.6, dy: -70.8, x: [-20, 50, 10], y: [-30, 20, 10], pc2: pc2TicksB, p2a: [877, 1801.3], p2b: [930.5, 1730.5], p2n: [948, 1730.5], font: 8, nameFont: 9.5, size: 4.2, lowData: pcaBLow, highData: pcaBHigh, lowFirst: false, leg: [768.5, 776, 815, 822, 1561.3, 8], nameGapX: 21, nameGapY: 30 },
    { l: 237.2, r: 359, t: 1943.7, b: 2068.2, dx: 80.4, dy: -51.4, x: [-15, 5, 5], y: [-8, 8, 2], pc2: pc2TicksC, p2a: [371, 2068.6], p2b: [451, 2016], p2n: [466, 2017], font: 7, nameFont: 8, size: 3.8, lowData: pcaCLow, highData: pcaCHigh, lowFirst: false, leg: [307.4, 313, 347.6, 354, 1856.3, 7.3], nameGapX: 21, nameGapY: 25 },
    { l: 706, r: 857.5, t: 1948, b: 2063.5, dx: 50.4, dy: -64.9, x: [-250, 150, 50], y: [-200, 100, 50], pc2: pc2TicksD, p2a: [873.7, 2064.7], p2b: [923.5, 2000], p2n: [941, 2000.6], font: 7, nameFont: 8, size: 3.8, lowData: pcaDLow, highData: pcaDHigh, lowFirst: false, leg: [777.4, 784, 819.5, 826, 1846.8, 7.6], nameGapX: 23, nameGapY: 27 },
  ];
  plots.forEach((P) => {
    const g = cart(
      { left: P.l, top: P.t, width: P.r - P.l, height: P.b - P.t, show: true, borderColor: "#6c6c6c", borderWidth: 1.2, backgroundColor: "transparent" },
      {
        type: "value", min: P.x[0], max: P.x[1], interval: P.x[2], name: "PC1", nameLocation: "middle", nameGap: P.nameGapX,
        nameTextStyle: { fontSize: P.nameFont, fontFamily: SANS, color: "#333" },
        axisLine: { show: false }, axisTick: { length: 3, lineStyle: { color: "#666" } }, splitLine: { show: false },
        axisLabel: { fontSize: P.font, fontFamily: SANS, color: "#444", margin: 4, hideOverlap: false },
      },
      {
        type: "value", min: P.y[0], max: P.y[1], interval: P.y[2], name: "PC3", nameLocation: "middle", nameGap: P.nameGapY,
        nameTextStyle: { fontSize: P.nameFont, fontFamily: SANS, color: "#333" },
        axisLine: { show: false }, axisTick: { length: 3, lineStyle: { color: "#666" } }, splitLine: { show: false },
        axisLabel: { rotate: 90, fontSize: P.font, fontFamily: SANS, color: "#444", margin: 4, hideOverlap: false },
      }
    );
    const low = { type: "scatter", name: "Low risk", xAxisIndex: g, yAxisIndex: g, clip: false, silent: true, symbolSize: P.size, data: P.lowData, itemStyle: { color: "#4a8fe0" } };
    const high = { type: "scatter", name: "High risk", xAxisIndex: g, yAxisIndex: g, clip: false, silent: true, symbolSize: P.size, data: P.highData, itemStyle: { color: "#b83a50" } };
    if (P.lowFirst) series.push(low, high);
    else series.push(high, low);
    const xs = (v: number) => P.l + ((v - P.x[0]) / (P.x[1] - P.x[0])) * (P.r - P.l);
    for (let v = P.x[0]; v <= P.x[1]; v += P.x[2]) {
      graphic.push(gline(xs(v), P.b, xs(v) + P.dx, P.b + P.dy, "#e6e6e6"));
    }
    const n = P.pc2.length;
    P.pc2.forEach((t, i) => {
      const f = i / (n - 1);
      graphic.push(gline(P.l + P.dx * f, P.b + P.dy * f, P.r + P.dx * f, P.b + P.dy * f, "#e8e8e8", 1));
      graphic.push(txt(t, P.p2a[0] + (P.p2b[0] - P.p2a[0]) * f, P.p2a[1] + (P.p2b[1] - P.p2a[1]) * f, P.font, { align: "center", fill: "#444" }));
    });
    const wire = "#3a3a3a";
    graphic.push(gline(P.l, P.t, P.l + P.dx, P.t + P.dy, wire));
    graphic.push(gline(P.r, P.t, P.r + P.dx, P.t + P.dy, wire));
    graphic.push(gline(P.l, P.b, P.l + P.dx, P.b + P.dy, wire));
    graphic.push(gline(P.r, P.b, P.r + P.dx, P.b + P.dy, wire));
    graphic.push(gline(P.l + P.dx, P.t + P.dy, P.r + P.dx, P.t + P.dy, wire));
    graphic.push(gline(P.r + P.dx, P.t + P.dy, P.r + P.dx, P.b + P.dy, wire));
    graphic.push(gline(P.l + P.dx, P.t + P.dy, P.l + P.dx, P.b + P.dy, "#777", 1.2));
    graphic.push(gline(P.l + P.dx, P.b + P.dy, P.r + P.dx, P.b + P.dy, "#777", 1.2));
    graphic.push(txt("PC2", P.p2n[0], P.p2n[1], P.nameFont, { align: "center", rotation: Math.PI / 2, fill: "#333" }));
    const L = P.leg;
    graphic.push({ type: "circle", silent: true, shape: { cx: L[0], cy: L[4], r: 1.6 }, style: { fill: "#4a8fe0" } });
    graphic.push(txt("Low risk", L[1], L[4], L[5], { fill: "#333" }));
    graphic.push({ type: "circle", silent: true, shape: { cx: L[2], cy: L[4], r: 1.6 }, style: { fill: "#b83a50" } });
    graphic.push(txt("High risk", L[3], L[4], L[5], { fill: "#333" }));
  });

  // ===== Panel 4 =====
  const polar = { center: [424.5, 2497], radius: [0, 349] };
  const angleAxis = { type: "value", min: 0, max: 360, startAngle: 90, clockwise: true, show: false };
  const radiusAxis = { type: "value", min: 0, max: 349, show: false };
  const rad = (a: number) => ((a - 90) * Math.PI) / 180;
  const scale = 0.0417; // degrees per gene on the sector axis
  const sectorAt = (c: any, r0: number, r: number, a0: number, a1: number, fill: string) => ({
    type: "sector",
    shape: { cx: c.cx, cy: c.cy, r0, r, startAngle: rad(a0), endAngle: rad(a1), clockwise: true },
    style: { fill },
  });
  const startOf = (i: number) => 90 + 20 * i;
  const polarText = (text: string, p: number[], rotDeg: number, size: number, fill = INK) => ({
    type: "text",
    x: p[0],
    y: p[1],
    rotation: (-rotDeg * Math.PI) / 180,
    style: { text, fontSize: size, fontFamily: SANS, fill, align: "center", textAlign: "center", verticalAlign: "middle", textVerticalAlign: "middle" },
  });
  const flip = (a: number) => {
    const m = ((a % 360) + 360) % 360;
    return m > 90 && m < 270 ? m - 180 : m;
  };
  const polarSeries = (name: string, data: any[], renderItem: any) => ({
    type: "custom", name, coordinateSystem: "polar", polarIndex: 0, silent: true, clip: false, data, renderItem,
  });
  series.push(polarSeries("GO terms", goIds.map((_, i) => [334, startOf(i) % 360]), (p: any, api: any) => {
    const i = p.dataIndex;
    const a0 = startOf(i);
    const mid = a0 + 10;
    return {
      type: "group",
      children: [
        sectorAt(p.coordSys, 320, 349, a0 + 0.8, a0 + 19.2, ontologyColors[goOntology[i]]),
        polarText(goIds[i], api.coord([334, mid % 360]), flip(mid), 13.5),
      ],
    };
  }));
  series.push(polarSeries("GO axis", goIds.map((_, i) => [349, startOf(i) % 360]), (p: any, api: any) => {
    const a0 = startOf(p.dataIndex);
    const children: any[] = [];
    goAxisTicks.forEach((v) => {
      const a = a0 + 0.8 + v * scale;
      const m = a % 360;
      const major = v % 100 === 0;
      const u = api.coord([349, m]);
      const w = [p.coordSys.cx + (u[0] - p.coordSys.cx) * ((major ? 355 : 352) / 349), p.coordSys.cy + (u[1] - p.coordSys.cy) * ((major ? 355 : 352) / 349)];
      children.push({ type: "line", shape: { x1: u[0], y1: u[1], x2: w[0], y2: w[1] }, style: { stroke: "#222", lineWidth: 0.8 } });
      if (major && v > 0) {
        const q = [p.coordSys.cx + (u[0] - p.coordSys.cx) * (365 / 349), p.coordSys.cy + (u[1] - p.coordSys.cy) * (365 / 349)];
        children.push(polarText(String(v), q, m <= 180 ? m - 90 : m - 270, 9, "#333"));
      }
    });
    return { type: "group", children };
  }));
  series.push(polarSeries("Number of Genes", goGenes.map((g, i) => [294, startOf(i) % 360]), (p: any, api: any) => {
    const i = p.dataIndex;
    const a0 = startOf(i) + 0.6;
    const a1 = a0 + goGenes[i] * scale;
    return {
      type: "group",
      children: [
        sectorAt(p.coordSys, 279, 309, a0, a1, pBinColors[goBin[i]]),
        polarText(String(goGenes[i]), api.coord([294, ((a0 + a1) / 2) % 360]), (a0 + a1) / 2, 13.5),
      ],
    };
  }));
  series.push(polarSeries("Number of Select", goSelect.map((g, i) => [252, startOf(i) % 360]), (p: any, api: any) => {
    const i = p.dataIndex;
    const a0 = startOf(i) + 0.6;
    return {
      type: "group",
      children: [
        sectorAt(p.coordSys, 239, 265, a0, a0 + goSelect[i] * scale, "#a055d8"),
        polarText(String(goSelect[i]), api.coord([255, (a0 + 2.4) % 360]), a0 + 2.4, 13.5),
      ],
    };
  }));
  series.push(polarSeries("Rich Factor", goRich.map((g, i) => [g, startOf(i) % 360]), (p: any) => {
    const i = p.dataIndex;
    const a0 = startOf(i) + 0.6;
    const a1 = a0 + 18.8;
    const c = p.coordSys;
    const children: any[] = [sectorAt(c, 105, 230, a0, a1, "#e4e4e4")];
    [134, 158, 182, 206].forEach((r) =>
      children.push({ type: "arc", shape: { cx: c.cx, cy: c.cy, r, startAngle: rad(a0), endAngle: rad(a1), clockwise: true }, style: { stroke: "#ececec", lineWidth: 1, fill: "none" } })
    );
    children.push(sectorAt(c, 110, 110 + goRich[i] * 120, a0, a1, ontologyColors[goOntology[i]]));
    return { type: "group", children };
  }));
  const cy = [2484, 2499.6, 2514.5];
  graphic.push({ type: "rect", silent: true, shape: { x: 354, y: cy[0] - 5.5, width: 11, height: 11 }, style: { fill: "#eec4cc" } });
  graphic.push({ type: "rect", silent: true, shape: { x: 354, y: cy[1] - 5.5, width: 11, height: 11 }, style: { fill: "#9a50c8" } });
  graphic.push({ type: "polygon", silent: true, shape: { points: [[359.5, cy[2] - 6], [366, cy[2] + 5], [353, cy[2] + 5]] }, style: { fill: "#77cb42" } });
  centerNames.forEach((t, i) => graphic.push(txt(t, 372, cy[i], 13.2)));
  graphic.push(txt("ONTOLOGY", 894, 2328, 13, { bold: true, align: "center" }));
  ontologyNames.forEach((t, i) => {
    const y = 2350 + i * 19;
    graphic.push({ type: "rect", silent: true, shape: { x: 825, y: y - 9, width: 17, height: 18 }, style: { fill: "#f0f0f0" } });
    graphic.push({ type: "rect", silent: true, shape: { x: 828, y: y - 5.5, width: 11, height: 11 }, style: { fill: ontologyColors[i] } });
    graphic.push(txt(t, 847.6, y, 13));
  });
  graphic.push(txt("-log10(Pvalue)", 810, 2417, 13, { bold: true }));
  pBinNames.forEach((t, i) => {
    const y = 2438 + i * 18.7;
    graphic.push({ type: "rect", silent: true, shape: { x: 825, y: y - 9.5, width: 17, height: 19 }, style: { fill: "#f0f0f0" } });
    graphic.push({ type: "circle", silent: true, shape: { cx: 833.5, cy: y, r: 5 }, style: { fill: pBinColors[i] } });
    graphic.push(txt(t, 847.6, y, 13));
  });

  // ===== Panel 5 =====
  const countTicks = [0, 10, 20, 30, 40];
  const barGrid = cart(
    { left: 650.5, top: 2898, width: 183.4, height: 633 },
    {
      type: "value", min: 0, max: 46, offset: -4, name: "Count", nameLocation: "middle", nameGap: 36,
      nameTextStyle: { fontSize: 17.5, fontFamily: SANS, color: INK },
      axisLine: { show: true, lineStyle: { color: "#111", width: 2 } }, splitLine: { show: false },
      axisTick: { customValues: countTicks, length: 4, lineStyle: { color: "#111", width: 1.2 } },
      axisLabel: { customValues: countTicks, fontSize: 16.5, fontFamily: SANS, color: INK, margin: 7 },
    },
    {
      type: "category", data: barNames, inverse: true,
      axisLine: { show: false },
      axisTick: { length: 4, alignWithLabel: true, lineStyle: { color: "#111", width: 1.2 } },
      axisLabel: { interval: 0, fontSize: 17.6, fontFamily: SANS, color: INK, margin: 8 },
    }
  );
  barGroups.forEach((g, k) =>
    series.push({
      type: "bar", name: g, stack: "go", xAxisIndex: barGrid, yAxisIndex: barGrid, barWidth: 13.4, silent: true,
      itemStyle: { color: barColors[k] },
      data: barCounts.map((c, i) => (barGroup[i] === g ? c : null)),
    })
  );
  graphic.push(gline(650.5, 2900, 650.5, 3528, "#111", 2));
  graphic.push(txt("ONTOLOGY", 861, 3172, 17.3));

  return {
    animation: false,
    grid,
    xAxis,
    yAxis,
    polar: [polar],
    angleAxis: [{ ...angleAxis, polarIndex: 0 }],
    radiusAxis: [{ ...radiusAxis, polarIndex: 0 }],
    legend: [
      {
        left: 703, top: 1206, orient: "vertical", icon: "rect", itemWidth: 60, itemHeight: 3, itemGap: 8.5, selectedMode: false,
        data: ["1-year", "3-year", "5-year"],
        textStyle: { fontSize: 32, lineHeight: 30, fontFamily: SANS, color: INK, padding: [0, 0, 0, 20] },
      },
      {
        left: 862, top: 3191, orient: "vertical", icon: "rect", itemWidth: 22, itemHeight: 22, itemGap: 3.8, selectedMode: false,
        data: barGroups,
        textStyle: { fontSize: 15, fontFamily: SANS, color: INK, padding: [0, 0, 0, 3] },
      },
    ],
    series,
    graphic: { elements: graphic },
  };
}

const PANELS = [
  [34, 5, 934, 691],
  [34, 710, 932, 796],
  [35, 1522, 932, 585],
  [32, 2116, 933, 770],
  [35, 2895, 931, 680],
];

export default function App() {
  const ref = useRef<HTMLDivElement>(null);
  useEffect(() => {
    document.body.style.margin = "0";
    const chart = echarts.init(ref.current!, undefined, { renderer: "svg" });
    chart.setOption(buildOption() as any);
    return () => chart.dispose();
  }, []);
  return (
    <div style={{ position: "absolute", left: 0, top: 0, width: 1000, height: 3582, background: "#fff", overflow: "hidden" }}>
      <div style={{ position: "absolute", left: 19, top: 0, width: 957, height: 3582, background: "#e4edfb" }} />
      {PANELS.map((p, i) => (
        <div key={i} style={{ position: "absolute", left: p[0], top: p[1], width: p[2], height: p[3], background: "#fff" }} />
      ))}
      <div ref={ref} style={{ position: "absolute", left: 0, top: 0, width: 1000, height: 3582 }} />
    </div>
  );
}
